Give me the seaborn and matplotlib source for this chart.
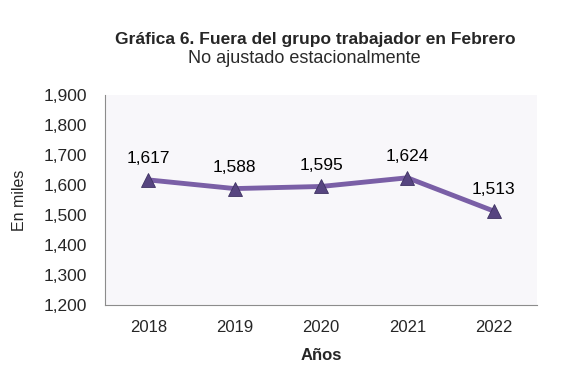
import matplotlib
matplotlib.use("Agg")
import matplotlib.pyplot as plt
import seaborn as sns
import pandas as pd
from matplotlib.ticker import FuncFormatter

anios = ["2018", "2019", "2020", "2021", "2022"]
valores = [1617, 1588, 1595, 1624, 1513]
etiquetas = ["1,617", "1,588", "1,595", "1,624", "1,513"]

sns.set_style("white")
plt.rcParams['font.family'] = ['Liberation Sans', 'DejaVu Sans']

df = pd.DataFrame({"anio": anios, "valor": valores})

fig = plt.figure(figsize=(5.66, 3.81), dpi=100)
ax = fig.add_axes([0.1855, 0.1995, 0.7633, 0.5512])
ax.set_facecolor("#F8F7FA")

sns.lineplot(data=df, x="anio", y="valor", ax=ax, color="#7A5FA6", linewidth=3.5,
             marker="^", markersize=10, markerfacecolor="#574580",
             markeredgecolor="#3E3262", markeredgewidth=0.6, sort=False)

for i, (v, t) in enumerate(zip(valores, etiquetas)):
    ax.annotate(t, (i, v), xytext=(0, 10), textcoords="offset points",
                ha="center", va="bottom", fontsize=12.5, color="black")

ax.set_xlim(-0.5, 4.5)
ax.set_ylim(1200, 1900)
ax.set_yticks(range(1200, 1901, 100))
ax.yaxis.set_major_formatter(FuncFormatter(lambda v, p: f"{int(v):,}"))

for s in ["top", "right"]:
    ax.spines[s].set_visible(False)
for s in ["left", "bottom"]:
    ax.spines[s].set_color("#8C8C8C")
    ax.spines[s].set_linewidth(0.8)

ax.tick_params(axis="y", direction="out", length=3.6, width=0.8, color="#8C8C8C",
               labelsize=12.5, pad=9)
ax.tick_params(axis="x", direction="out", length=2.5, width=0.8, color="#8C8C8C",
               labelsize=12, pad=8)
ax.set_xlabel("Años", fontsize=12, fontweight="bold", labelpad=10)
ax.set_ylabel("En miles", fontsize=11.5, labelpad=12)

fig.text(0.557, 0.885, "Gráfica 6. Fuera del grupo trabajador en Febrero", ha="center",
         fontsize=12.5, fontweight="bold")
fig.text(0.537, 0.835, "No ajustado estacionalmente", ha="center", fontsize=13,
         color="#2A2A2A")

fig.savefig("out.png", dpi=100, facecolor="white")
